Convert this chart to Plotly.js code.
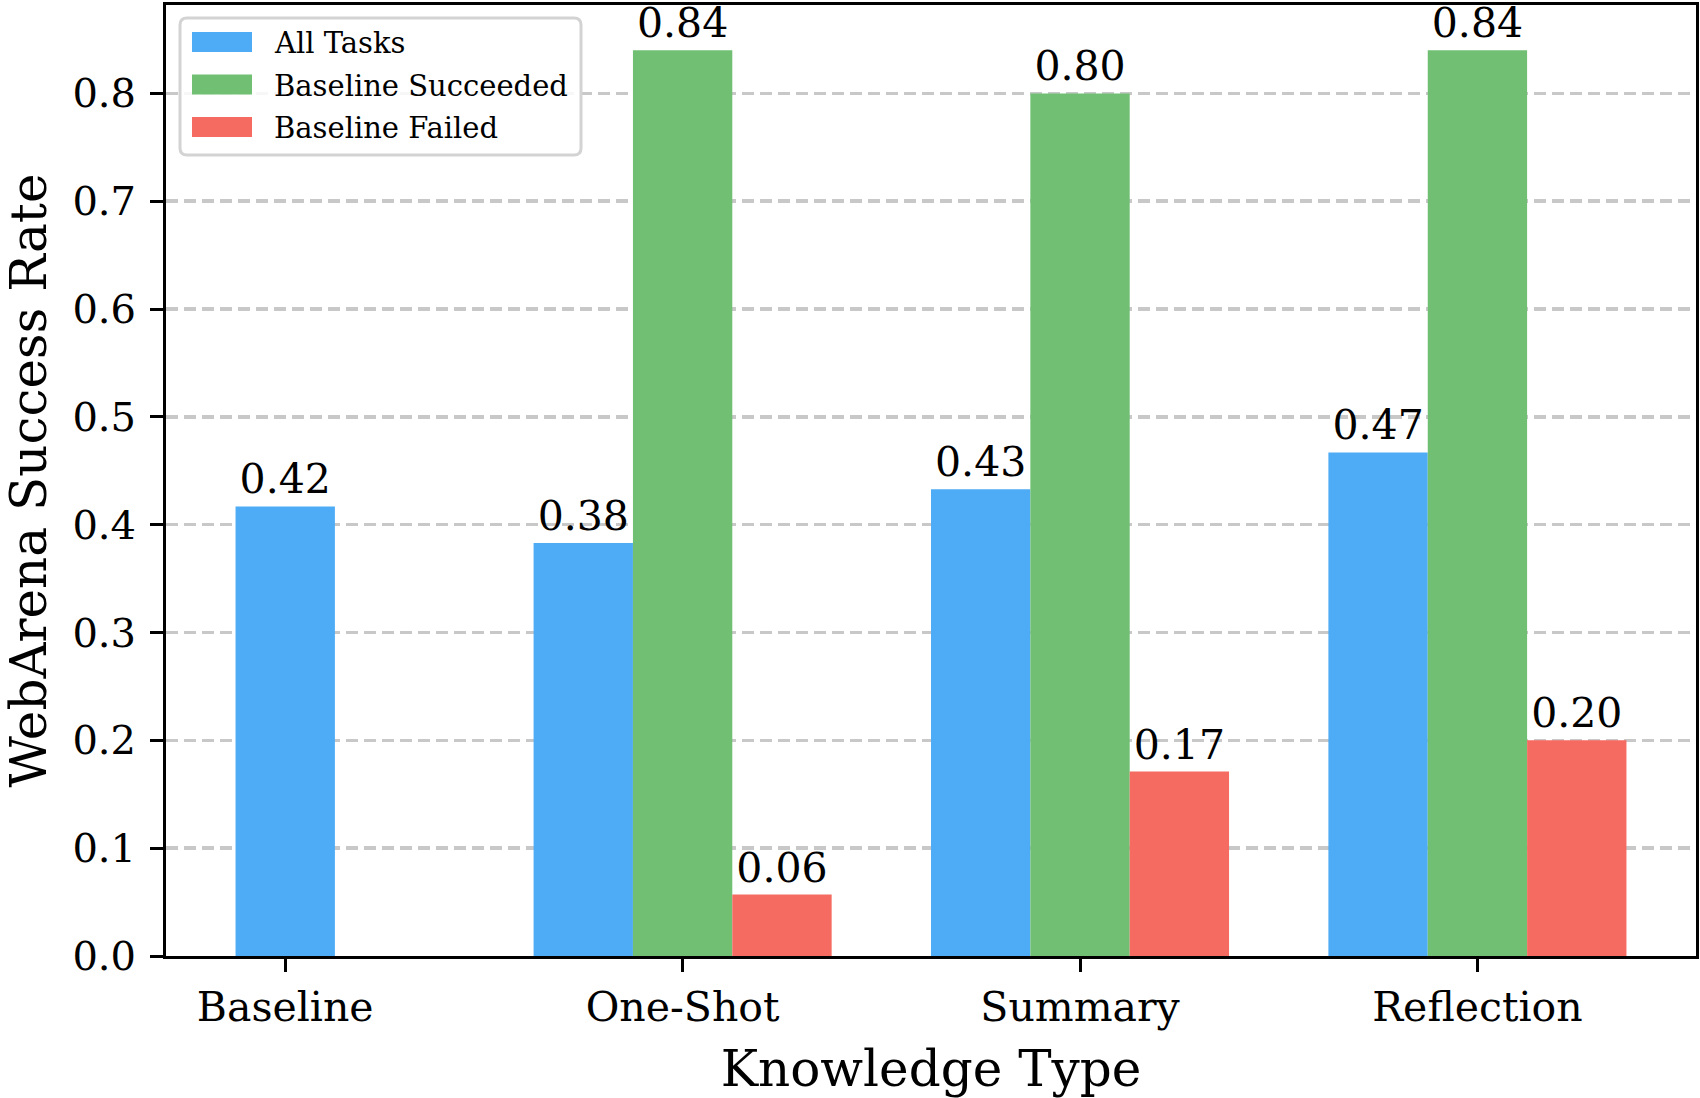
<!DOCTYPE html>
<html>
<head>
<meta charset="utf-8">
<script src="https://cdn.plot.ly/plotly-3.0.1.min.js"></script>
<style>html,body{margin:0;padding:0;background:#fff;}#chart{width:1700px;height:1098px;}</style>
</head>
<body>
<div id="chart"></div>
<script>
const categories = ["Baseline", "One-Shot", "Summary", "Reflection"];
const groupCategories = ["One-Shot", "Summary", "Reflection"];
const allTasks = [0.417, 0.383, 0.433, 0.467];
const baselineSucceeded = [0.84, 0.80, 0.84];
const baselineFailed = [0.057, 0.171, 0.20];
const yTicks = [0.0, 0.1, 0.2, 0.3, 0.4, 0.5, 0.6, 0.7, 0.8];
const seriesNames = ["All Tasks", "Baseline Succeeded", "Baseline Failed"];
const seriesColors = ["#4EABF5", "#71BF73", "#F66B61"];

const FONT = "DejaVu Serif, serif";
const textFont = {family: FONT, size: 41, color: "#000"};

const W = 1700, H = 1098;
const M = {l: 166, r: 4, t: 5, b: 142};
const plotW = W - M.l - M.r, plotH = H - M.t - M.b;
const px2x = p => (p - M.l) / plotW;
const px2y = p => (H - M.b - p) / plotH;

function barTrace(i, x, y, offset) {
  return {
    type: "bar", name: seriesNames[i], x: x, y: y,
    width: 0.25, offset: offset,
    marker: {color: seriesColors[i], line: {width: 0}},
    texttemplate: "%{y:.2f}", textposition: "outside", textfont: textFont,
    cliponaxis: false, constraintext: "none", hoverinfo: "skip", showlegend: false
  };
}

const traces = [
  barTrace(0, categories, allTasks, [-0.125, -0.375, -0.375, -0.375]),
  barTrace(1, groupCategories, baselineSucceeded, -0.125),
  barTrace(2, groupCategories, baselineFailed, 0.125)
];

// custom legend (box, swatches, labels) in paper coordinates
const box = {x0: 180, x1: 581, y0: 18, y1: 155, r: 7};
const bx0 = px2x(box.x0), bx1 = px2x(box.x1), by0 = px2y(box.y1), by1 = px2y(box.y0);
const rx = box.r / plotW, ry = box.r / plotH;
const boxPath = `M${bx0 + rx},${by0} L${bx1 - rx},${by0} Q${bx1},${by0} ${bx1},${by0 + ry} ` +
  `L${bx1},${by1 - ry} Q${bx1},${by1} ${bx1 - rx},${by1} L${bx0 + rx},${by1} ` +
  `Q${bx0},${by1} ${bx0},${by1 - ry} L${bx0},${by0 + ry} Q${bx0},${by0} ${bx0 + rx},${by0} Z`;

const shapes = [{
  type: "path", xref: "paper", yref: "paper", path: boxPath,
  fillcolor: "rgba(255,255,255,0.85)", line: {color: "#d3d3d3", width: 3}, layer: "above"
}];
const annotations = [];
const rowCenters = [42, 84.5, 127];
seriesNames.forEach((name, i) => {
  const cy = rowCenters[i];
  shapes.push({
    type: "rect", xref: "paper", yref: "paper",
    x0: px2x(192), x1: px2x(252), y0: px2y(cy + 10), y1: px2y(cy - 10),
    fillcolor: seriesColors[i], line: {width: 0}, layer: "above"
  });
  annotations.push({
    xref: "paper", yref: "paper", x: px2x(272), y: px2y(cy + 1),
    xanchor: "left", yanchor: "middle", showarrow: false, text: name,
    font: {family: FONT, size: 29, color: "#000"}
  });
});

const layout = {
  width: W, height: H,
  margin: {l: M.l, r: M.r, t: M.t, b: M.b, pad: 0},
  paper_bgcolor: "#fff", plot_bgcolor: "#fff",
  barmode: "overlay",
  font: {family: FONT, color: "#000"},
  showlegend: false,
  shapes: shapes,
  annotations: annotations,
  xaxis: {
    type: "category", categoryorder: "array", categoryarray: categories,
    range: [-0.3, 3.55],
    showline: true, linecolor: "#000", linewidth: 3, mirror: true,
    ticks: "outside", ticklen: 13, tickwidth: 3, tickcolor: "#000",
    tickfont: {family: FONT, size: 41, color: "#000"},
    showgrid: false, zeroline: false,
    title: {text: "Knowledge Type", font: {family: FONT, size: 50, color: "#000"}, standoff: 22},
    layer: "above traces"
  },
  yaxis: {
    range: [0, 0.882],
    tickvals: yTicks, ticktext: yTicks.map(v => v.toFixed(1)),
    showline: true, linecolor: "#000", linewidth: 3, mirror: true,
    ticks: "outside", ticklen: 13, tickwidth: 3, tickcolor: "#000",
    tickfont: {family: FONT, size: 40, color: "#000"},
    ticklabelstandoff: 6,
    showgrid: true, gridcolor: "rgba(170,170,170,0.65)", gridwidth: 3.5, griddash: "12px,6px",
    zeroline: false,
    title: {text: "WebArena Success Rate", font: {family: FONT, size: 50, color: "#000"}, standoff: 22},
    layer: "above traces"
  }
};

Plotly.newPlot("chart", traces, layout, {displayModeBar: false, staticPlot: true});
</script>
</body>
</html>
